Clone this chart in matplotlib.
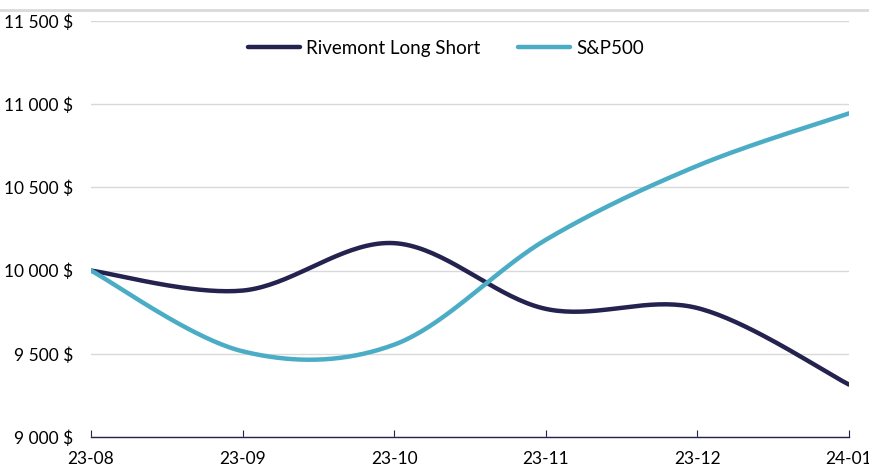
import numpy as np
import matplotlib.pyplot as plt
from matplotlib.lines import Line2D

months = ["23-08", "23-09", "23-10", "23-11", "23-12", "24-01"]
rivemont = [10000, 9880, 10165, 9770, 9775, 9315]
sp500 = [10000, 9515, 9555, 10185, 10630, 10945]

yticks = [9000, 9500, 10000, 10500, 11000, 11500]

navy = "#24224f"
light_blue = "#4bacc6"

plt.rcParams['font.family'] = ['Lato', 'DejaVu Sans']


def smooth(y, n=40):
    # Excel style smoothed line (Catmull-Rom through the points)
    y = np.asarray(y, dtype=float)
    x = np.arange(len(y), dtype=float)
    pts = np.column_stack([x, y])
    out = []
    for i in range(len(pts) - 1):
        p0 = pts[max(i - 1, 0)]
        p1 = pts[i]
        p2 = pts[i + 1]
        p3 = pts[min(i + 2, len(pts) - 1)]
        c1 = p1 + (p2 - p0) / 6
        c2 = p2 - (p3 - p1) / 6
        t = np.linspace(0, 1, n)[:, None]
        seg = ((1 - t) ** 3) * p1 + 3 * ((1 - t) ** 2) * t * c1 + 3 * (1 - t) * t ** 2 * c2 + t ** 3 * p2
        out.append(seg if i == 0 else seg[1:])
    out = np.vstack(out)
    return out[:, 0], out[:, 1]


fig = plt.figure(figsize=(8.69, 4.68), dpi=100)
ax = fig.add_axes([91 / 869, 1 - 437 / 468, (849 - 91) / 869, (437 - 21) / 468])

fig.add_artist(Line2D([0, 1], [1 - 10 / 468] * 2, color="#d9d9d9", lw=2, transform=fig.transFigure))

for vals, col, name in [(rivemont, navy, "Rivemont Long Short"), (sp500, light_blue, "S&P500")]:
    xs, ys = smooth(vals)
    ax.plot(xs, ys, color=col, lw=3.2, label=name, solid_capstyle="round", zorder=3)

ax.set_xlim(0, len(months) - 1)
ax.set_ylim(9000, 11500)
ax.set_yticks(yticks)
ax.set_yticklabels([f"{v:,} $".replace(",", " ") for v in yticks])
ax.set_xticks(range(len(months)))
ax.set_xticklabels(months)

ax.grid(axis="y", color="#d9d9d9", lw=1)
ax.set_axisbelow(True)
for s in ["top", "right", "left"]:
    ax.spines[s].set_visible(False)
ax.spines["bottom"].set_color(navy)
ax.spines["bottom"].set_linewidth(1)
ax.tick_params(axis="y", length=0, pad=13, labelsize=12.5)
ax.tick_params(axis="x", direction="in", length=5, color=navy, pad=10, labelsize=12.5)

ax.legend(loc="center", bbox_to_anchor=(0.468, 1 - 27 / 416), ncol=2, frameon=False,
          fontsize=13.5, handlelength=2.8, columnspacing=2.0, handletextpad=0.3)

fig.savefig("out.png", dpi=100)
